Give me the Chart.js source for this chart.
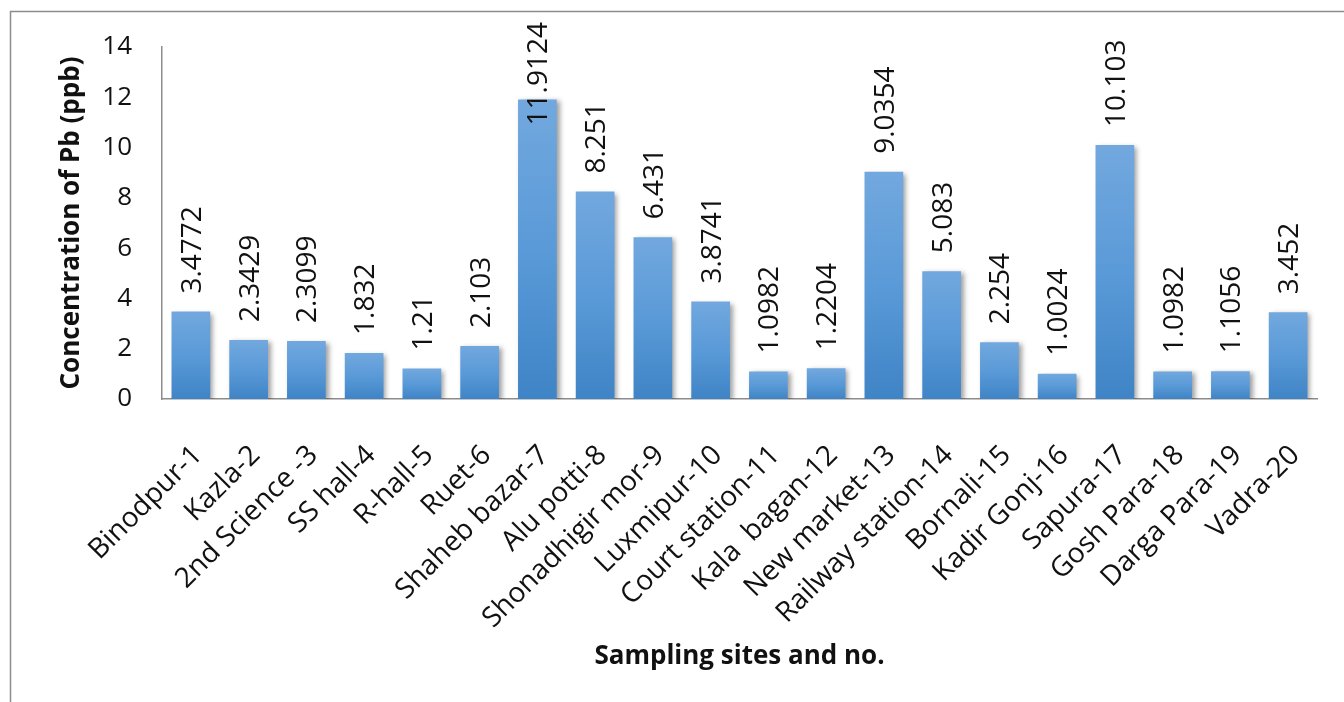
<!DOCTYPE html>
<html>
<head>
<meta charset="utf-8">
<title>Concentration of Pb by sampling site</title>
<script src="https://cdn.jsdelivr.net/npm/chart.js@4/dist/chart.umd.min.js"></script>
<style>
  html, body { margin: 0; padding: 0; background: #ffffff; }
  #wrap { width: 1344px; height: 702px; position: relative; }
</style>
</head>
<body>
<div id="wrap"><canvas id="pbChart"></canvas></div>
<script>
// Sampling sites (x categories)
const sites = [
  'Binodpur-1', 'Kazla-2', '2nd Science -3', 'SS hall-4', 'R-hall-5',
  'Ruet-6', 'Shaheb bazar-7', 'Alu potti-8', 'Shonadhigir mor-9', 'Luxmipur-10',
  'Court station-11', 'Kala  bagan-12', 'New market-13', 'Railway station-14', 'Bornali-15',
  'Kadir Gonj-16', 'Sapura-17', 'Gosh Para-18', 'Darga Para-19', 'Vadra-20'
];

// Pb concentration at each site (ppb)
const leadPpb = [
  3.4772, 2.3429, 2.3099, 1.832, 1.21,
  2.103, 11.9124, 8.251, 6.431, 3.8741,
  1.0982, 1.2204, 9.0354, 5.083, 2.254,
  1.0024, 10.103, 1.0982, 1.1056, 3.452
];

// Value axis ticks
const yTicks = [0, 2, 4, 6, 8, 10, 12, 14];

const FONT = "'Open Sans', 'Noto Sans', sans-serif";
const INK = '#111111';

// Soft drop shadow under the bars, then rotated value labels above them
const barDecor = {
  id: 'barDecor',
  beforeDatasetsDraw(chart) {
    const ctx = chart.ctx;
    ctx.save();
    ctx.shadowColor = 'rgba(0,0,0,0.38)';
    ctx.shadowBlur = 5;
    ctx.shadowOffsetX = 3;
    ctx.shadowOffsetY = 2;
  },
  afterDatasetsDraw(chart) {
    const ctx = chart.ctx;
    ctx.restore();
    const meta = chart.getDatasetMeta(0);
    ctx.save();
    ctx.font = '28px ' + FONT;
    ctx.fillStyle = INK;
    ctx.textAlign = 'left';
    ctx.textBaseline = 'middle';
    meta.data.forEach((bar, i) => {
      const text = String(leadPpb[i]);
      const w = ctx.measureText(text).width;
      const start = Math.max(bar.y - 18, 22 + w);
      ctx.save();
      ctx.translate(bar.x + 2, start);
      ctx.rotate(-Math.PI / 2);
      ctx.fillText(text, 0, 0);
      ctx.restore();
    });
    ctx.restore();
  }
};

// Outer frame around the chart object
const chartFrame = {
  id: 'chartFrame',
  afterDraw(chart) {
    const ctx = chart.ctx;
    ctx.save();
    ctx.strokeStyle = '#8c8c8c';
    ctx.lineWidth = 1.5;
    ctx.strokeRect(10.5, 11.5, chart.width + 20, chart.height + 20);
    ctx.restore();
  }
};

new Chart(document.getElementById('pbChart'), {
  type: 'bar',
  data: {
    labels: sites,
    datasets: [{
      data: leadPpb,
      categoryPercentage: 1.0,
      barPercentage: 0.67,
      borderWidth: 0,
      backgroundColor(c) {
        const chart = c.chart;
        if (!chart.chartArea || c.type !== 'data') return '#5b9bd5';
        const ys = chart.scales.y;
        const top = ys.getPixelForValue(leadPpb[c.dataIndex]);
        const base = ys.getPixelForValue(0);
        const g = chart.ctx.createLinearGradient(0, top, 0, base);
        g.addColorStop(0, '#72a8de');
        g.addColorStop(0.5, '#5a9ad8');
        g.addColorStop(1, '#3f84c6');
        return g;
      }
    }]
  },
  options: {
    responsive: true,
    maintainAspectRatio: false,
    animation: false,
    layout: { padding: { top: 47, right: 27, left: 0, bottom: 0 } },
    plugins: {
      legend: { display: false },
      tooltip: { enabled: false }
    },
    scales: {
      x: {
        grid: { display: false, drawTicks: false },
        border: { display: true, color: '#8c8c8c', width: 1.5 },
        ticks: {
          autoSkip: false,
          maxRotation: 45,
          minRotation: 45,
          padding: 40,
          labelOffset: 7,
          color: INK,
          font: { family: FONT, size: 28 }
        },
        title: {
          display: true,
          text: 'Sampling sites and no.',
          color: INK,
          font: { family: FONT, size: 26, weight: 'bold', lineHeight: 1.2 },
          padding: { top: 0, bottom: 30 }
        },
        afterFit(scale) {
          scale.height = 303;
          scale.paddingLeft = 0;
          scale.paddingRight = 0;
        }
      },
      y: {
        min: 0,
        max: 14,
        grid: { display: false, drawTicks: false },
        border: { display: true, color: '#8c8c8c', width: 1.5 },
        afterBuildTicks(scale) { scale.ticks = yTicks.map(v => ({ value: v })); },
        ticks: {
          padding: 30,
          color: INK,
          font: { family: FONT, size: 26 }
        },
        title: {
          display: true,
          text: 'Concentration of Pb (ppb)',
          color: INK,
          font: { family: FONT, size: 26, weight: 'bold', lineHeight: 1.2 },
          padding: { top: 56, bottom: 0 }
        },
        afterFit(scale) { scale.width = 162; }
      }
    }
  },
  plugins: [barDecor, chartFrame]
});
</script>
</body>
</html>
